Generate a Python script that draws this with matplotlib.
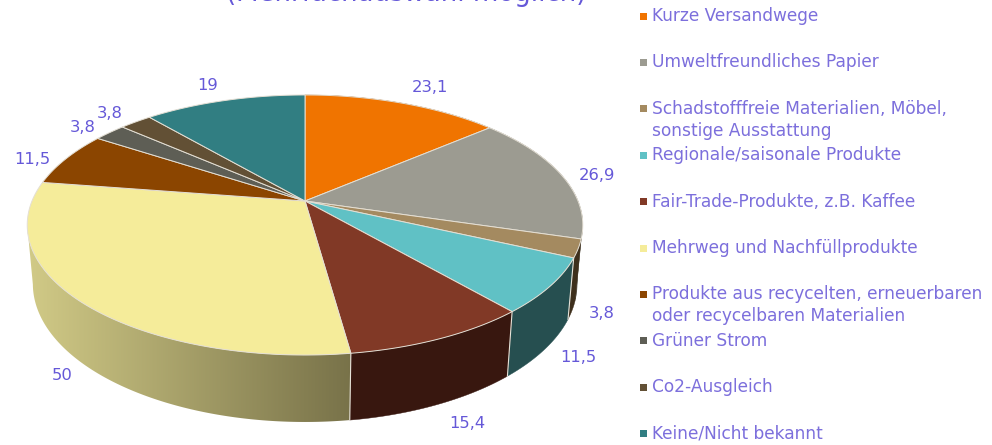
import numpy as np
import matplotlib
matplotlib.use("Agg")
import matplotlib.pyplot as plt
from matplotlib.patches import Polygon, Rectangle
from matplotlib.colors import LinearSegmentedColormap

categories = [
    "Kurze Versandwege", "Umweltfreundliches Papier",
    "Schadstofffreie Materialien, Möbel,\nsonstige Ausstattung",
    "Regionale/saisonale Produkte", "Fair-Trade-Produkte, z.B. Kaffee",
    "Mehrweg und Nachfüllprodukte",
    "Produkte aus recycelten, erneuerbaren\noder recycelbaren Materialien",
    "Grüner Strom", "Co2-Ausgleich", "Keine/Nicht bekannt",
]
values = [23.1, 26.9, 3.8, 11.5, 15.4, 50, 11.5, 3.8, 3.8, 19]
value_labels = ["23,1", "26,9", "3,8", "11,5", "15,4", "50", "11,5", "3,8", "3,8", "19"]
top_colors = ["#F07400", "#9C9B91", "#A48A60", "#60C1C5", "#813926",
              "#F5EC9A", "#8B4500", "#5E5E55", "#625035", "#317E82"]
side_colors = ["#A85100", "#6D6C65", "#3E2F1C", "#264F50", "#38170F",
               "#D6CF8A", "#5A2D00", "#3E3E38", "#40331F", "#1F5052"]
label_xy = [(430, 88), (597, 176), (602, 313), (578, 358), (467, 423),
            (62, 376), (32, 159), (83, 127), (110, 114), (208, 86)]

TITLE = "(Mehrfachauswahl möglich)"
LABEL_C = "#6558D8"
LEGEND_C = "#7C6FDC"
CX, CY, RX, RY, K = 305.0, 201.0, 273.0, 125.6, 0.1846
M, D = 0.02, 59.0
GRADIENT_SLICE = 5


def project(t, bottom=False):
    u, v = np.sin(t), np.cos(t)
    m, d = (M, D) if bottom else (0.0, 0.0)
    w = 1 + m + K * v
    return CX + RX * u / w, CY + (-RY * v + d) / w


fig = plt.figure(figsize=(9.92, 4.45), dpi=100)
ax = fig.add_axes([0, 0, 1, 1])
ax.axis("off")

edges = np.concatenate([[0], np.cumsum(values)]) / np.sum(values) * 2 * np.pi
left_tangent = 2 * np.pi - np.arccos(-K)

# side wall: each slice is one outline, swept between top and bottom rims
for i, (a, b, c) in enumerate(zip(edges[:-1], edges[1:], side_colors)):
    if a >= left_tangent:
        continue
    ts = np.linspace(a, min(b, left_tangent), 160)
    xt, yt = project(ts)
    xb, yb = project(ts[::-1], True)
    pts = np.column_stack([np.r_[xt, xb], np.r_[yt, yb]])
    if i == GRADIENT_SLICE:
        patch = Polygon(pts, closed=True, facecolor="none", edgecolor="none", zorder=2)
        ax.add_patch(patch)
        cmap = LinearSegmentedColormap.from_list("wall", [c, "#787249"])
        im = ax.imshow(np.linspace(0, 1, 256).reshape(1, -1), cmap=cmap, aspect="auto",
                       extent=(10, 352, 445, 0), zorder=2)
        im.set_clip_path(patch)
    else:
        ax.add_patch(Polygon(pts, closed=True, facecolor=c, edgecolor=c, lw=0.3, zorder=2))

# vertical seams between visible wall segments
for t in edges:
    if np.pi * 0.6 < t < np.pi * 1.4:
        x0, y0 = project(t)
        x1, y1 = project(t, True)
        ax.plot([x0, x1], [y0, y1], color="#E6E2D8", lw=0.8, zorder=3)

# top face
for a, b, c in zip(edges[:-1], edges[1:], top_colors):
    ts = np.linspace(a, b, 120)
    xs, ys = project(ts)
    pts = [(CX, CY)] + list(zip(xs, ys))
    ax.add_patch(Polygon(pts, closed=True, facecolor=c, edgecolor="#E4DFD4", lw=0.7, zorder=4))

# value labels
for s, (x, y) in zip(value_labels, label_xy):
    ax.text(x, y, s, color=LABEL_C, fontsize=11.8, ha="center", va="center", zorder=6)

# legend
for i, (name, col) in enumerate(zip(categories, top_colors)):
    y = 16 + 46.4 * i
    ax.add_patch(Rectangle((640, y - 3.5), 7, 7, facecolor=col, edgecolor="none", zorder=6))
    for j, line in enumerate(name.split("\n")):
        ax.text(652, y + 22 * j, line, color=LEGEND_C, fontsize=12.25, ha="left", va="center", zorder=6)

ax.text(406.5, 1, TITLE, color=LABEL_C, fontsize=18.7, ha="center", va="baseline", clip_on=False)
ax.set_xlim(0, 992)
ax.set_ylim(445, 0)
fig.savefig("out.png", dpi=100, facecolor="white")
